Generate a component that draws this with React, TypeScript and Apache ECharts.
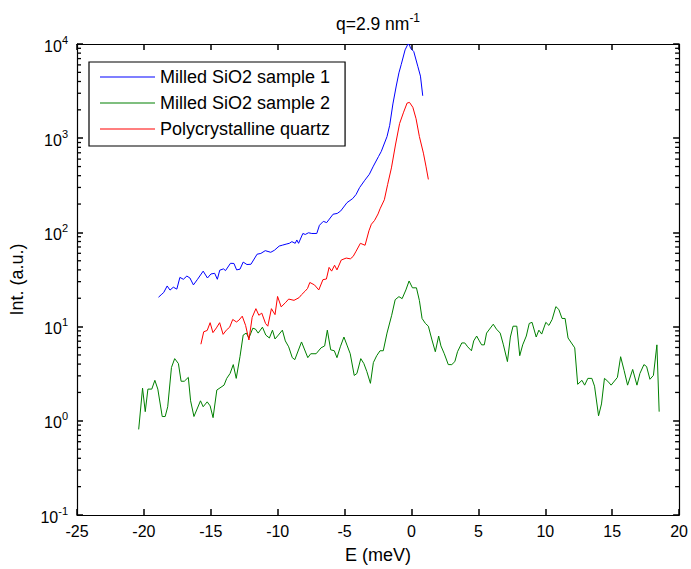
import React, { useEffect, useRef } from 'react';
import * as echarts from 'echarts';

// Energy transfer E (meV) vs intensity (a.u.), q = 2.9 nm^-1
const sample1: [number, number][] = [
  [-18.91, 20.5], [-18.66, 22.1], [-18.52, 23.0], [-18.26, 27.0], [-18.05, 24.4], [-17.8, 26.2],
  [-17.54, 25.0], [-17.31, 33.3], [-17.05, 31.8], [-16.79, 34.4], [-16.56, 32.8], [-16.3, 27.7],
  [-15.99, 31.8], [-15.57, 38.8], [-15.25, 32.8], [-14.99, 36.2], [-14.71, 36.8], [-14.51, 31.8],
  [-14.33, 39.7], [-14.05, 41.0], [-13.9, 39.3], [-13.53, 47.0], [-13.27, 46.8], [-13.07, 40.0],
  [-12.82, 40.7], [-12.58, 48.4], [-12.3, 45.6], [-12.0, 45.9], [-11.54, 58.7], [-11.26, 59.8],
  [-10.93, 64.0], [-10.52, 61.5], [-10.24, 64.7], [-9.89, 71.6], [-9.63, 73.3], [-9.37, 75.1],
  [-9.13, 76.6], [-8.94, 79.8], [-8.69, 76.6], [-8.57, 83.1], [-8.44, 76.6], [-8.12, 97.4],
  [-7.94, 95.1], [-7.7, 99.1], [-7.45, 97.4], [-7.08, 97.4], [-6.88, 119], [-6.59, 131],
  [-6.34, 127], [-5.86, 156], [-5.55, 159], [-5.29, 169], [-4.82, 207], [-4.39, 229],
  [-4.14, 253], [-3.88, 299], [-3.49, 358], [-3.15, 414], [-2.85, 505], [-2.46, 641],
  [-2.26, 723], [-1.83, 1040], [-1.63, 1370], [-1.39, 2310], [-1.14, 3580], [-0.94, 4940],
  [-0.77, 6040], [-0.48, 8660], [-0.27, 9950], [-0.15, 9760], [-0.07, 9020], [0.17, 8310],
  [0.47, 5800], [0.67, 4560], [0.84, 2820],
];

const sample2: [number, number][] = [
  [-20.39, 0.81], [-20.1, 2.22], [-19.9, 1.25], [-19.7, 2.17], [-19.41, 2.17], [-19.18, 2.69],
  [-18.96, 2.17], [-18.63, 1.11], [-18.41, 1.11], [-18.22, 1.41], [-17.94, 3.68], [-17.7, 4.57],
  [-17.42, 4.05], [-17.22, 2.63], [-16.98, 2.63], [-16.68, 2.89], [-16.51, 1.63], [-16.26, 1.11],
  [-15.77, 1.63], [-15.57, 1.41], [-15.27, 1.59], [-15.05, 1.44], [-14.83, 1.08], [-14.55, 2.12],
  [-14.01, 2.39], [-13.81, 2.82], [-13.56, 3.18], [-13.32, 3.95], [-13.1, 2.82], [-12.82, 4.79],
  [-12.58, 8.13], [-12.35, 8.53], [-12.15, 7.57], [-11.86, 9.62], [-11.66, 9.4], [-11.46, 8.53],
  [-11.14, 9.86], [-10.89, 8.13], [-10.62, 7.57], [-10.39, 9.17], [-10.2, 7.39], [-9.95, 8.13],
  [-9.65, 9.17], [-9.43, 7.05], [-9.18, 6.1], [-8.91, 4.68], [-8.72, 4.46], [-8.22, 6.87],
  [-7.75, 4.68], [-7.53, 5.15], [-7.13, 5.15], [-6.76, 5.95], [-6.49, 6.24], [-6.29, 9.17],
  [-6.04, 5.67], [-5.77, 5.54], [-5.57, 4.68], [-5.32, 6.1], [-5.05, 7.75], [-4.8, 6.24],
  [-4.58, 5.15], [-4.28, 3.03], [-4.08, 3.18], [-3.79, 4.57], [-3.56, 4.05], [-3.34, 3.34],
  [-3.07, 2.5], [-2.85, 4.15], [-2.6, 4.91], [-2.35, 5.54], [-2.11, 5.54], [-1.83, 8.53],
  [-1.48, 13.2], [-1.22, 19.3], [-0.94, 20.8], [-0.7, 19.8], [-0.42, 24.5], [-0.18, 30.5],
  [0.07, 25.8], [0.37, 25.8], [0.59, 18.9], [0.79, 12.2], [1.04, 10.8], [1.26, 10.1],
  [1.53, 7.21], [1.78, 5.41], [2.03, 7.94], [2.2, 6.24], [2.45, 5.15], [2.75, 3.95],
  [3.01, 3.95], [3.24, 4.25], [3.44, 5.41], [3.76, 6.71], [3.98, 6.71], [4.2, 6.1],
  [4.48, 5.54], [4.65, 7.05], [4.87, 7.94], [5.07, 7.05], [5.24, 6.4], [5.44, 6.4],
  [5.61, 8.53], [6.11, 10.6], [6.35, 9.4], [6.63, 8.53], [6.87, 6.4], [7.17, 4.25],
  [7.39, 7.75], [7.59, 10.1], [7.87, 10.1], [8.09, 4.91], [8.31, 6.4], [8.58, 7.94],
  [8.8, 10.8], [9.01, 11.1], [9.32, 7.75], [9.52, 9.17], [9.73, 8.33], [10.04, 11.1],
  [10.27, 10.3], [10.51, 11.9], [10.79, 16.3], [11.01, 15.2], [11.25, 12.2], [11.48, 12.2],
  [11.7, 7.57], [12.2, 5.95], [12.42, 2.44], [12.74, 2.69], [12.94, 2.39], [13.18, 2.82],
  [13.48, 2.82], [13.68, 2.33], [13.98, 1.13], [14.2, 1.51], [14.42, 2.82], [14.67, 2.63],
  [14.92, 2.39], [15.39, 2.89], [15.63, 4.79], [15.89, 3.42], [16.15, 2.39], [16.53, 3.51],
  [16.85, 2.39], [17.07, 3.18], [17.37, 3.95], [17.57, 3.77], [17.82, 2.76], [18.08, 3.03],
  [18.34, 6.4], [18.51, 1.25],
];

const quartz: [number, number][] = [
  [-15.74, 6.5], [-15.53, 8.81], [-15.27, 9.1], [-15.05, 11.0], [-14.84, 8.63], [-14.58, 9.69],
  [-14.34, 11.0], [-14.08, 8.27], [-13.84, 9.17], [-13.59, 9.86], [-13.36, 11.9], [-13.08, 11.2],
  [-12.9, 11.7], [-12.65, 12.9], [-12.4, 10.3], [-12.15, 7.21], [-11.91, 12.5], [-11.63, 15.5],
  [-11.41, 13.2], [-11.19, 13.9], [-10.91, 10.8], [-10.74, 10.1], [-10.47, 15.5], [-10.2, 13.4],
  [-10.01, 20.9], [-9.74, 16.2], [-9.43, 17.9], [-9.18, 19.6], [-8.78, 19.0], [-8.4, 20.3],
  [-8.22, 21.8], [-7.96, 23.7], [-7.77, 25.4], [-7.6, 29.4], [-7.25, 27.7], [-6.93, 24.5],
  [-6.62, 31.5], [-6.36, 32.0], [-6.16, 42.5], [-5.97, 38.8], [-5.75, 44.8], [-5.57, 40.0],
  [-5.25, 50.9], [-4.88, 53.4], [-4.57, 52.4], [-4.36, 55.6], [-4.14, 63.2], [-3.82, 76.6],
  [-3.47, 73.0], [-3.18, 104], [-3.0, 122], [-2.76, 134], [-2.5, 157], [-2.35, 178],
  [-2.03, 222], [-1.78, 324], [-1.5, 484], [-1.2, 847], [-0.89, 1430], [-0.59, 1890],
  [-0.33, 2360], [-0.15, 2400], [0.1, 2130], [0.34, 1610], [0.59, 1040], [0.89, 694],
  [1.08, 505], [1.26, 365],
];

const seriesNames = ['Milled SiO2 sample 1', 'Milled SiO2 sample 2', 'Polycrystalline quartz'];
const seriesColors = ['#0000ff', '#008000', '#ff0000'];

const xMin = -25;
const xMax = 20;
const xStep = 5;
const yMin = 0.1;
const yMax = 10000;

const minorTicks = [
  0.2, 0.3, 0.4, 0.5, 0.6, 0.7, 0.8, 0.9,
  2, 3, 4, 5, 6, 7, 8, 9,
  20, 30, 40, 50, 60, 70, 80, 90,
  200, 300, 400, 500, 600, 700, 800, 900,
  2000, 3000, 4000, 5000, 6000, 7000, 8000, 9000,
];

const FONT = '"Liberation Sans", Arial, Helvetica, sans-serif';

const mkLine = () => ({ show: true, onZero: false, lineStyle: { color: '#000', width: 1.2 } });
const mkTick = () => ({ show: true, inside: true, length: 6, lineStyle: { color: '#000', width: 1.5 } });

export default function App() {
  const ref = useRef<HTMLDivElement>(null);

  useEffect(() => {
    if (!ref.current) return;
    const chart = echarts.init(ref.current, null, { renderer: 'svg' });

    const option: any = {
      animation: false,
      backgroundColor: '#fff',
      grid: { left: 77, right: 8, top: 44, bottom: 46 },
      graphic: [
        {
          type: 'text',
          x: 378,
          y: 22,
          style: {
            text: '{a|q=2.9 nm}{s|-1}',
            textAlign: 'center',
            textVerticalAlign: 'middle',
            rich: {
              a: { fontFamily: FONT, fontSize: 17.5, fill: '#000', verticalAlign: 'bottom' },
              s: { fontFamily: FONT, fontSize: 12, fill: '#000', verticalAlign: 'bottom', padding: [0, 0, 9, 0] },
            },
          },
        },
      ],
      legend: {
        data: seriesNames,
        orient: 'vertical',
        left: 89,
        top: 62,
        icon: 'rect',
        itemWidth: 55,
        itemHeight: 1,
        itemGap: 8,
        padding: [6, 15, 8, 11],
        borderColor: '#000',
        borderWidth: 1.2,
        backgroundColor: '#fff',
        selectedMode: false,
        textStyle: { fontFamily: FONT, fontSize: 18, color: '#000' },
      },
      xAxis: [
        {
          type: 'value',
          min: xMin,
          max: xMax,
          interval: xStep,
          position: 'bottom',
          axisLine: mkLine(),
          axisTick: mkTick(),
          splitLine: { show: false },
          axisLabel: { color: '#000', fontFamily: FONT, fontSize: 16, margin: 8 },
          name: 'E (meV)',
          nameLocation: 'middle',
          nameGap: 31,
          nameTextStyle: { color: '#000', fontFamily: FONT, fontSize: 18 },
        },
        {
          type: 'value',
          min: xMin,
          max: xMax,
          interval: xStep,
          position: 'top',
          axisLine: mkLine(),
          axisTick: mkTick(),
          splitLine: { show: false },
          axisLabel: { show: false },
        },
      ],
      yAxis: [
        {
          type: 'log',
          logBase: 10,
          min: yMin,
          max: yMax,
          position: 'left',
          axisLine: mkLine(),
          axisTick: mkTick(),
          splitLine: { show: false },
          axisLabel: {
            margin: 9,
            formatter: (v: number) => `{b|10}{s|${Math.round(Math.log10(v))}}`,
            rich: {
              b: { fontFamily: FONT, fontSize: 16, color: '#000', verticalAlign: 'bottom' },
              s: { fontFamily: FONT, fontSize: 11, color: '#000', verticalAlign: 'bottom', padding: [0, 0, 9, 0] },
            },
          },
          name: 'Int. (a.u.)',
          nameLocation: 'middle',
          nameGap: 51,
          nameTextStyle: { color: '#000', fontFamily: FONT, fontSize: 18 },
        },
        {
          type: 'log',
          logBase: 10,
          min: yMin,
          max: yMax,
          position: 'right',
          axisLine: mkLine(),
          axisTick: mkTick(),
          splitLine: { show: false },
          axisLabel: { show: false },
        },
      ],
      series: [
        ...[sample1, sample2, quartz].map((d, i) => ({
          name: seriesNames[i],
          type: 'line',
          data: d,
          xAxisIndex: 0,
          yAxisIndex: 0,
          symbol: 'none',
          showSymbol: false,
          color: seriesColors[i],
          itemStyle: { color: seriesColors[i] },
          lineStyle: { color: seriesColors[i], width: 1 },
        })),
        {
          type: 'custom',
          xAxisIndex: 0,
          yAxisIndex: 0,
          data: minorTicks.map((v) => [xMin, v]),
          renderItem: (_p: any, api: any) => {
            const v = api.value(1);
            const l = api.coord([xMin, v]);
            const r = api.coord([xMax, v]);
            return {
              type: 'group',
              children: [
                { type: 'line', shape: { x1: l[0], y1: l[1], x2: l[0] + 4, y2: l[1] }, style: { stroke: '#000', lineWidth: 1.3 } },
                { type: 'line', shape: { x1: r[0] - 4, y1: r[1], x2: r[0], y2: r[1] }, style: { stroke: '#000', lineWidth: 1.3 } },
              ],
            };
          },
        },
      ],
    };

    chart.setOption(option);
    return () => chart.dispose();
  }, []);

  return (
    <div
      ref={ref}
      style={{ position: 'absolute', left: 0, top: 0, width: 691, height: 569, background: '#fff' }}
    />
  );
}
